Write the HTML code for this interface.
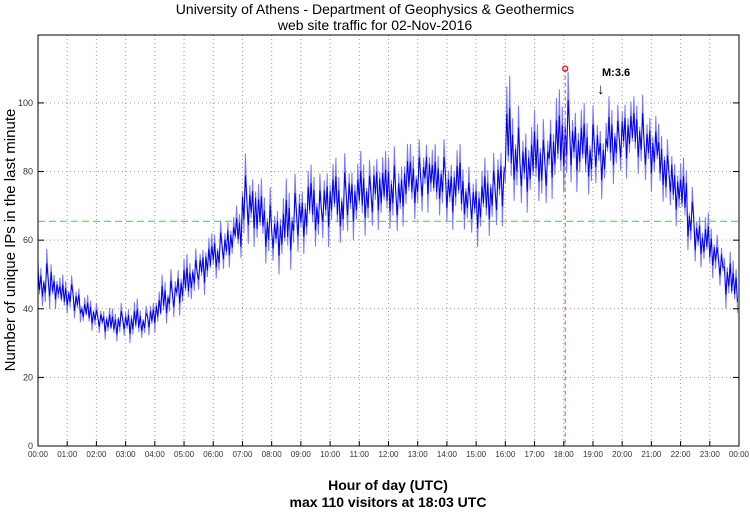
<!DOCTYPE html>
<html><head><meta charset="utf-8"><style>
body{margin:0;background:#fff;width:750px;height:511px;overflow:hidden}
svg text{font-family:"Liberation Sans",sans-serif}
</style></head><body>
<svg id="chart" width="750" height="511">
<text x="375" y="14" text-anchor="middle" font-size="14">University of Athens - Department of Geophysics &amp; Geothermics</text>
<text x="375" y="30" text-anchor="middle" font-size="14">web site traffic for 02-Nov-2016</text>
<text transform="translate(15,240) rotate(-90)" text-anchor="middle" font-size="15">Number of unique IPs in the last minute</text>
<text x="388" y="490" text-anchor="middle" font-size="14" font-weight="bold">Hour of day (UTC)</text>
<text x="388" y="507" text-anchor="middle" font-size="14" font-weight="bold">max 110 visitors at 18:03 UTC</text>
<g id="grid"></g><g id="series"></g><g id="axes"></g>
</svg>
<script>
const yTicks=[0,20,40,60,80,100];
const hours=["00:00","01:00","02:00","03:00","04:00","05:00","06:00","07:00","08:00","09:00","10:00","11:00","12:00","13:00","14:00","15:00","16:00","17:00","18:00","19:00","20:00","21:00","22:00","23:00","00:00"];
const lo=[40,38,40,37,38,36,34,33,32,31,30,31,30,29,31,31,33,35,36,38,38,42,44,45,48,50,52,54,56,58,55,52,52,50,50,54,56,58,57,58,60,58,60,60,60,62,63,62,62,60,64,65,66,68,65,66,63,64,62,60,58,60,62,64,66,70,68,68,70,68,72,70,72,74,73,72,74,72,75,78,78,80,78,75,74,70,68,64,60,56,52,50,48,45,40,38];
const hi=[54,58,52,50,50,48,44,44,42,41,40,42,42,43,41,44,46,50,52,54,56,58,60,62,64,66,68,70,86,82,78,76,72,74,78,80,78,82,80,84,84,82,86,84,86,84,88,86,88,86,90,88,90,92,88,90,86,88,84,82,82,84,86,90,108,100,96,95,98,96,100,104,110,102,100,98,100,96,102,100,104,102,103,100,98,94,90,86,84,76,70,68,66,62,58,54];
const avgLine=[65.5];
const maxVal=[110];const maxMin=[18*60+3];
const L=38,R=739,T=35,B=446,YMAX=119.8;
const X=m=>L+(R-L)*m/1440, Y=v=>B-(B-T)*v/YMAX;
const NS="http://www.w3.org/2000/svg";
function mk(p,t,a){const e=document.createElementNS(NS,t);for(const k in a)e.setAttribute(k,a[k]);p.appendChild(e);return e;}
const g=document.getElementById('grid'),s=document.getElementById('series'),ax=document.getElementById('axes');
yTicks.forEach(v=>{
 if(v>0&&v<YMAX){const l=mk(g,'line',{x1:L,x2:R,y1:Y(v),y2:Y(v),stroke:'#999','stroke-dasharray':'1,3'});
 
 }
 const t=mk(ax,'text',{x:L-5,y:Y(v)+3,'text-anchor':'end','font-size':'9',fill:'#333'});t.textContent=v;
 
 
 mk(ax,'line',{x1:L,x2:L+6,y1:Y(v),y2:Y(v),stroke:'#000'});mk(ax,'line',{x1:R,x2:R-6,y1:Y(v),y2:Y(v),stroke:'#000'});
});
hours.forEach((h,i)=>{
 const x=X(i*60);
 if(i>0&&i<24){const l=mk(g,'line',{x1:x,x2:x,y1:T,y2:B,stroke:'#999','stroke-dasharray':'1,3'});
 
 }
 const t=mk(ax,'text',{x:x,y:B+11,'text-anchor':'middle','font-size':'8',fill:'#333'});t.textContent=h;
 
 
 mk(ax,'line',{x1:x,x2:x,y1:B,y2:B-5,stroke:'#000'});
});
const gl=mk(s,'line',{x1:L,x2:R,y1:Y(avgLine[0]),y2:Y(avgLine[0]),stroke:'#33ee33','stroke-dasharray':'7,4','stroke-width':1.2});


const amp=[1,-0.4,0.7,-0.9,0.2,-0.6,0.95,0.1,-0.8,0.5,-0.3,0.65,-1,0.35,-0.5,0.85,-0.2];
function zig(scale){let pts=[],k=0;const bw=15;
 for(let i=0;i<lo.length;i++){const mid=(lo[i]+hi[i])/2,half=(hi[i]-lo[i])/2;
  for(let j=0;j<5;j++){const m=i*bw+j*bw/5;const v=mid+half*amp[k%amp.length]*scale;k++;pts.push(X(m).toFixed(1)+','+Y(v).toFixed(1));}}
 return pts.join(' ');}
const p1=mk(s,'polyline',{points:zig(1),fill:'none',stroke:'#7777ff','stroke-width':1});


const p2=mk(s,'polyline',{points:zig(0.55),fill:'none',stroke:'#0000ee','stroke-width':1});


const rl=mk(s,'line',{x1:X(maxMin[0]),x2:X(maxMin[0]),y1:Y(maxVal[0]),y2:B,stroke:'#e05050','stroke-dasharray':'4,3'});


const rc=mk(s,'circle',{cx:X(maxMin[0]),cy:Y(maxVal[0]),r:2.5,fill:'none',stroke:'#ee0000','stroke-width':1.2});


const mt=mk(s,'text',{x:602,y:76,'font-size':'11','font-weight':'bold'});mt.textContent='M:3.6';


const ma=mk(s,'text',{x:597,y:94,'font-size':'15'});ma.textContent='↓';


const fr=mk(ax,'rect',{x:L,y:T,width:R-L,height:B-T,fill:'none',stroke:'#000'});


</script>
</body></html>
